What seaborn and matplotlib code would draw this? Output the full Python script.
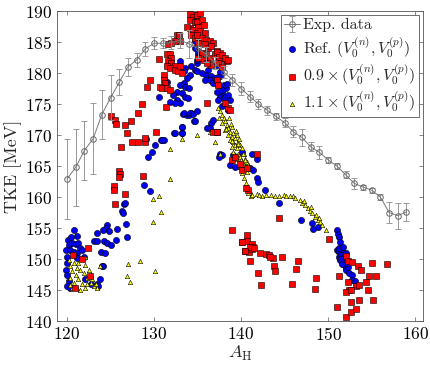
import numpy as np
import pandas as pd
import matplotlib
matplotlib.use("Agg")
import matplotlib.pyplot as plt
import seaborn as sns

# ---------------- data ----------------
exp_A = list(range(120, 160))
exp_tke = [162.9, 164.8, 167.5, 169.4, 173.3, 176.0, 178.5, 181.0, 182.1, 183.9,
           184.8, 184.8, 184.9, 185.3, 184.7, 184.0, 183.0, 181.6, 180.2, 178.9,
           177.5, 176.2, 175.0, 174.0, 173.0, 172.0, 170.5, 169.6, 168.1, 167.2,
           166.0, 165.0, 163.6, 162.2, 161.6, 161.1, 160.0, 157.5, 157.0, 157.6]
exp_err = [6.4, 6.2, 4.7, 5.7, 4.0, 3.6, 2.1, 1.5, 1.2, 1.1,
           1.0, 0.8, 1.1, 1.2, 2.2, 1.5, 1.2, 1.0, 1.0, 1.0,
           1.0, 0.9, 0.8, 0.7, 0.6, 0.7, 0.9, 1.4, 0.7, 1.0,
           0.5, 0.5, 0.6, 0.9, 0.4, 0.4, 0.5, 1.7, 2.1, 1.4]

ref_A = [133.0, 133.6, 133.4, 134.3, 134.7, 134.9, 135.0, 134.7, 134.7, 134.1,
         133.8, 133.4, 133.0, 133.6, 134.0, 132.6, 132.2, 133.2, 133.6, 132.6,
         133.9, 132.4, 130.6, 131.5, 131.8,
         133.3, 133.8, 134.2, 134.6, 133.2, 133.2, 132.3, 131.1, 130.1, 129.8,
         129.3, 128.9, 136.1, 129.1, 130.8, 129.5,
         126.5, 126.7, 126.3, 126.4, 124.6, 124.5, 124.8, 124.1, 124.2, 124.6,
         125.0, 123.4, 123.1, 123.4, 125.8, 126.8, 126.9, 125.6, 123.9, 124.4,
         124.1, 120.8, 120.1, 120.5, 121.1, 120.2, 120.6, 121.0, 121.3, 121.5,
         119.9, 120.4, 120.8, 121.1, 121.7, 121.9, 121.2, 120.0, 120.0, 119.9,
         120.0, 120.2, 120.0, 120.4, 122.1, 123.8, 123.5, 123.6, 122.7, 124.0,
         134.9, 135.5, 136.0, 136.6, 135.9, 136.4, 137.0, 137.6, 136.8, 137.4,
         138.0, 138.3, 137.2, 137.8, 137.6, 138.3, 138.0, 136.2, 135.1, 134.9,
         137.2, 137.6, 137.4, 138.0, 138.4, 137.8, 138.2, 138.5, 138.7, 138.5,
         137.8, 137.4,
         133.0, 133.4, 134.0, 134.1, 134.5, 134.9, 134.7, 133.2, 132.4, 133.2,
         130.9, 136.6, 136.8, 136.4, 137.6, 137.8, 137.5, 138.7, 139.3, 140.3,
         141.0, 141.4, 141.2, 141.8, 140.1, 139.1, 141.8, 142.0,
         142.7, 144.4, 146.9, 148.1, 148.3, 148.8, 151.0, 151.1, 151.3, 151.4,
         151.0, 151.3, 151.6, 151.2, 151.5, 151.8, 151.4, 151.8, 151.9, 152.0,
         152.1, 152.3, 152.4, 152.7, 152.8, 153.1, 151.2, 151.7, 152.0, 151.5,
         152.2, 151.6]
ref_tke = [181.9, 180.8, 180.3, 181.1, 180.5, 181.6, 183.0, 184.0, 185.1, 179.7,
           179.2, 178.4, 178.1, 177.8, 177.6, 177.0, 176.5, 176.8, 176.2, 175.7,
           176.0, 175.2, 176.2, 178.6, 175.4,
           173.4, 173.2, 173.5, 172.3, 171.3, 170.4, 170.3, 169.2, 168.4, 167.3,
           166.5, 162.0, 171.1, 169.3, 169.2, 161.0,
           158.9, 159.0, 157.7, 157.4, 155.5, 155.0, 154.5, 154.6, 152.9, 152.6,
           152.3, 154.2, 152.9, 152.9, 154.9, 155.6, 153.5, 153.0, 151.2, 151.0,
           148.9, 154.7, 153.1, 153.5, 153.7, 152.3, 152.6, 152.4, 152.6, 151.8,
           151.5, 151.5, 151.2, 151.0, 151.5, 150.4, 150.2, 150.4, 149.4, 148.3,
           147.5, 146.4, 145.6, 145.3, 146.8, 146.7, 146.0, 145.6, 145.9, 148.8,
           180.3, 180.0, 179.7, 179.5, 178.9, 178.9, 179.2, 179.5, 178.4, 178.1,
           177.8, 177.6, 177.0, 177.0, 176.2, 176.2, 176.0, 180.5, 183.5, 182.1,
           181.3, 180.2, 179.4, 178.1, 178.3, 177.2, 176.2, 176.5, 175.6, 174.0,
           174.6, 175.6,
           175.2, 173.5, 173.2, 173.6, 173.4, 173.8, 172.2, 171.3, 170.3, 170.3,
           169.2, 171.9, 172.4, 171.1, 167.0, 166.8, 166.5, 165.2, 164.9, 164.9,
           164.6, 164.4, 167.0, 166.2, 167.3, 166.8, 163.0, 162.5,
           161.1, 159.1, 156.3, 155.8, 154.8, 155.1, 154.7, 154.1, 153.5, 152.8,
           151.4, 151.2, 151.4, 150.4, 150.7, 150.4, 149.8, 149.6, 149.0, 148.5,
           148.2, 148.7, 147.7, 147.4, 146.6, 146.5, 151.8, 151.9, 151.0, 150.0,
           149.3, 149.2]

red_A = [134.1, 134.5, 134.9, 134.1, 134.7, 135.1, 134.1, 133.8, 134.5, 134.9,
         134.3, 134.7, 135.1, 132.6, 132.9, 133.0, 132.4, 132.0, 131.6, 131.5,
         131.8, 132.0, 131.6, 132.0, 132.4, 131.5, 131.8, 132.4, 132.8, 133.0,
         133.2, 130.6, 131.2, 131.1, 131.3, 130.7, 130.9, 131.5, 131.8, 129.5,
         129.2,
         125.1, 125.5, 125.6, 126.7, 126.9, 127.4, 128.6, 128.2, 127.5, 128.2,
         129.0, 129.0, 130.2, 126.2, 126.0, 126.1, 126.0, 128.7, 125.4, 125.4,
         126.7, 125.5, 131.4,
         122.4, 121.7, 120.7, 122.6, 120.9,
         134.9, 135.3, 134.9, 135.5, 135.1, 135.7, 135.3, 135.9, 134.9, 135.5,
         136.0, 136.4, 136.8, 135.1, 135.9, 136.2, 136.6, 137.2, 137.6, 138.2,
         138.4, 135.5, 136.0, 136.4, 137.0, 136.6, 137.4, 135.1, 135.7, 136.1,
         137.2, 137.5, 137.8, 138.2, 138.5, 137.3, 137.8, 137.2, 137.4, 138.5,
         137.2,
         136.1, 138.2, 138.7, 136.8, 137.2, 138.9, 139.3, 139.9, 140.1, 140.7,
         141.8, 140.8, 140.6,
         139.0, 140.1, 140.7, 140.4, 140.9, 141.0, 141.2, 141.4, 141.3, 142.2,
         142.9, 143.2, 143.7, 144.7, 143.8, 143.9, 142.0, 142.3, 145.9, 146.5,
         146.3, 148.6, 148.5, 150.1, 151.3, 152.0, 152.3, 152.8, 153.4, 153.8,
         152.3, 152.4, 153.2, 153.6, 152.0, 152.6, 151.0, 152.0, 152.6, 153.2,
         153.5, 152.6, 154.4, 154.7, 155.0, 155.5, 154.6, 155.1, 156.8,
         144.4, 140.7, 140.1, 141.0, 141.5, 140.5, 143.3]
red_tke = [189.5, 189.1, 189.4, 188.6, 188.3, 187.8, 187.3, 187.4, 187.0, 186.4,
           186.2, 185.6, 185.4, 186.1, 186.1, 185.1, 185.1, 184.8, 184.6, 183.0,
           183.0, 182.4, 181.9, 181.6, 181.1, 181.1, 180.8, 180.5, 180.3, 181.1,
           180.0, 182.3, 179.7, 178.9, 178.4, 177.8, 177.6, 177.6, 177.3, 178.9,
           177.8,
           173.1, 172.4, 171.8, 171.6, 170.4, 172.3, 175.0, 173.6, 168.9, 168.9,
           168.9, 169.5, 170.5, 168.1, 164.2, 163.7, 163.3, 163.4, 161.7, 161.2,
           160.5, 158.9, 174.5,
           151.8, 150.0, 150.6, 147.3, 145.4,
           189.4, 189.7, 188.3, 188.6, 187.5, 187.8, 186.7, 186.4, 186.2, 185.6,
           185.4, 185.1, 184.8, 184.8, 184.6, 184.0, 184.3, 183.5, 183.2, 182.1,
           182.0, 183.2, 183.0, 182.4, 183.0, 181.3, 181.9, 182.4, 182.1, 181.6,
           183.4, 182.6, 182.9, 182.5, 182.1, 181.6, 181.0, 178.9, 178.1, 174.3,
           170.5,
           175.1, 175.1, 174.0, 170.5, 170.5, 166.0, 166.5, 165.4, 164.4, 164.6,
           167.0, 161.1, 161.4,
           154.7, 152.8, 152.9, 151.3, 151.2, 149.7, 152.4, 152.0, 151.6, 150.9,
           150.8, 150.6, 150.1, 150.4, 148.9, 148.0, 147.7, 145.8, 146.0, 149.7,
           148.4, 146.9, 145.2, 153.2, 147.2, 150.5, 149.6, 149.5, 148.9, 148.2,
           146.3, 145.0, 145.6, 145.8, 144.7, 145.0, 142.2, 140.7, 141.5, 142.0,
           143.4, 143.1, 146.3, 147.2, 149.4, 147.3, 145.0, 143.4, 149.2,
           156.6, 153.9, 152.7, 151.9, 151.8, 151.3, 150.4]

yel_A = [129.9, 130.6, 130.8, 129.9, 128.4, 127.0, 126.9, 127.2, 130.1, 123.8,
         122.1,
         120.2, 120.8, 120.4, 121.1, 120.6, 121.5, 121.0, 121.9, 120.4, 121.3,
         122.3, 120.8, 121.7, 122.7, 123.1, 121.1, 122.1, 123.4, 122.5, 122.9,
         120.6, 121.5, 120.3, 122.3, 123.3, 122.1, 121.3, 122.7,
         131.8, 133.2, 134.9, 136.4, 137.0, 137.6, 131.8,
         137.4, 137.6, 137.8, 137.5, 138.0, 138.2, 137.8, 138.4, 138.5, 138.2,
         138.7, 138.9, 139.1, 138.5, 138.9, 139.3, 139.5, 138.7, 139.1, 139.7,
         139.3, 139.9, 138.9, 139.5, 140.1, 139.1, 139.7, 140.3, 139.9, 140.5,
         139.5, 140.1, 140.7, 140.3, 140.8, 140.5, 139.9, 140.7, 140.1, 140.3,
         140.6, 140.7, 141.0, 141.1,
         138.3, 138.8, 139.0, 139.4, 139.6, 139.8, 140.0, 140.2, 140.4, 138.6,
         140.8, 141.8, 142.4, 142.9, 143.9, 144.9, 145.2, 146.0, 146.2, 146.8,
         147.0, 147.4, 147.7, 147.9, 148.2, 148.5, 148.8, 149.1, 149.3, 149.7,
         141.3, 142.1, 143.4, 144.4, 145.6, 147.2, 148.0, 148.6, 149.0]
yel_tke = [159.7, 160.2, 157.6, 156.0, 149.7, 149.2, 147.2, 146.3, 148.1, 148.8,
           150.3,
           149.9, 149.4, 148.8, 148.5, 148.0, 148.3, 147.5, 147.7, 146.9, 146.7,
           146.9, 146.1, 145.9, 146.1, 145.6, 145.3, 145.3, 145.4, 148.3, 146.7,
           145.3, 145.0, 145.8, 145.9, 146.0, 149.1, 149.4, 147.5,
           162.9, 169.4, 170.0, 170.5, 168.9, 167.0, 167.7,
           174.3, 173.8, 173.2, 172.7, 172.7, 172.2, 171.9, 171.6, 171.1, 170.8,
           170.5, 171.3, 170.3, 170.0, 169.7, 169.5, 170.0, 169.2, 168.9, 168.9,
           168.4, 168.4, 168.1, 167.9, 167.9, 167.3, 167.0, 167.0, 166.5, 166.2,
           166.2, 165.7, 165.7, 165.2, 165.2, 164.6, 164.9, 164.1, 163.8, 163.0,
           162.2, 161.6, 160.9, 160.2,
           171.0, 171.8, 169.0, 170.6, 168.6, 169.3, 166.0, 166.9, 165.9, 172.8,
           160.6, 160.5, 160.2, 160.3, 160.2, 160.3, 160.2, 160.1, 159.8, 159.5,
           159.1, 158.7, 158.2, 157.8, 157.4, 156.8, 156.3, 155.9, 155.5, 154.7,
           160.4, 160.3, 160.3, 160.2, 160.1, 159.3, 158.4, 157.1, 156.6]

legend_labels = ["Exp. data",
                 r"Ref. $(V_0^{(n)}, V_0^{(p)})$",
                 r"$0.9 \times (V_0^{(n)}, V_0^{(p)})$",
                 r"$1.1 \times (V_0^{(n)}, V_0^{(p)})$"]

# ---------------- style ----------------
sns.set_style("ticks")
plt.rcParams.update({
    "font.family": "serif",
    "font.serif": ["cmr10", "DejaVu Serif"],
    "mathtext.fontset": "cm",
    "axes.formatter.use_mathtext": True,
    "font.size": 11,
    "axes.edgecolor": "#555555",
    "axes.linewidth": 0.6,
})

fig = plt.figure(figsize=(4.3, 3.74), dpi=100)
ax = fig.add_axes([57/430, 53/374, 366/430, 310/374])

df_ref = pd.DataFrame({"A": ref_A, "TKE": ref_tke})
df_red = pd.DataFrame({"A": red_A, "TKE": red_tke})
df_yel = pd.DataFrame({"A": yel_A, "TKE": yel_tke})

sns.scatterplot(data=df_ref, x="A", y="TKE", ax=ax, marker="o", s=20,
                color="#0000ee", edgecolor="black", linewidth=0.4,
                label=legend_labels[1], zorder=2)
sns.scatterplot(data=df_yel, x="A", y="TKE", ax=ax, marker="^", s=10,
                color="#ffff00", edgecolor="black", linewidth=0.4,
                label=legend_labels[3], zorder=3)
sns.scatterplot(data=df_red, x="A", y="TKE", ax=ax, marker="s", s=15,
                color="#ff0000", edgecolor="black", linewidth=0.4,
                label=legend_labels[2], zorder=4)
eb = ax.errorbar(exp_A, exp_tke, yerr=exp_err, color="#7a7a7a", lw=0.7,
                 marker="o", markersize=4, markerfacecolor="none",
                 markeredgecolor="#666666", markeredgewidth=0.7,
                 ecolor="#999999", elinewidth=0.7, capsize=2, capthick=0.7,
                 label=legend_labels[0], zorder=5)

ax.set_xlim(118.85, 160.9)
ax.set_ylim(140, 190)
ax.set_xticks([120, 130, 140, 150, 160])
ax.set_yticks(list(range(140, 191, 5)))
ax.tick_params(direction="in", top=True, right=True, length=3, width=0.5,
               colors="#555555", labelcolor="black", labelsize=12.5)
ax.set_xlabel(r"$A_\mathrm{H}$", fontsize=13, labelpad=1)
ax.set_ylabel("TKE [MeV]", fontsize=13, labelpad=2)

handles, labels = ax.get_legend_handles_labels()
order = [labels.index(l) for l in legend_labels]
leg = ax.legend([handles[i] for i in order], [labels[i] for i in order],
                loc="upper right", fontsize=11.5, frameon=True, fancybox=False,
                edgecolor="#555555", framealpha=1, borderpad=0.2,
                handletextpad=0.2, handlelength=1.0, labelspacing=0.15,
                borderaxespad=0.25, markerscale=1.0)
leg.get_frame().set_linewidth(0.6)

fig.savefig("out.png", dpi=100)
